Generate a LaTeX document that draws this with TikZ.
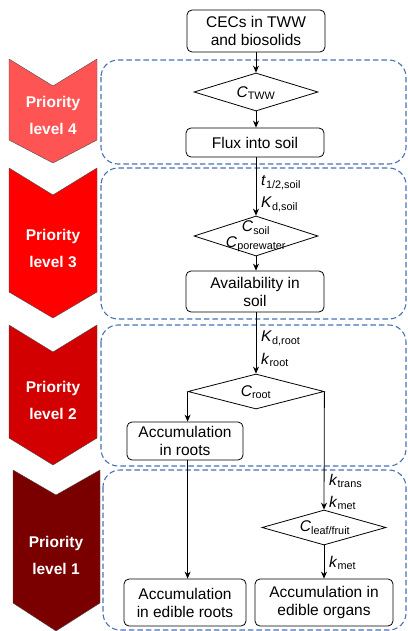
\documentclass[tikz,border=0pt]{standalone}
\usepackage{fontspec}
\setmainfont{Liberation Sans}
\usetikzlibrary{shapes.geometric,arrows.meta}

\definecolor{lvlfour}{HTML}{FF5454}
\definecolor{lvlthree}{HTML}{FF0000}
\definecolor{lvltwo}{HTML}{D20000}
\definecolor{lvlone}{HTML}{7A0000}
\definecolor{zoneblue}{HTML}{4A72B8}

% italic symbol with upright subscript
\newcommand{\qty}[2]{\textit{#1}\textsubscript{#2}}

\begin{document}
\begin{tikzpicture}[x=1pt,y=-1pt,
  font=\fontsize{15.5}{18}\selectfont,
  box/.style={draw, rounded corners=5pt, line width=0.8pt, align=center,
              inner sep=0pt},
  dia/.style={draw, diamond, line width=0.8pt, inner sep=0pt},
  zone/.style={draw=zoneblue, dash pattern=on 5.5pt off 3pt, line width=1.1pt,
               rounded corners=17pt},
  chev/.style={draw=black!70, line width=0.4pt},
  lvltext/.style={text=white, font=\fontsize{15.5}{27}\selectfont\bfseries,
                  align=center},
  flow/.style={-{Stealth[length=7pt,width=6pt]}, line width=0.8pt},
  par/.style={anchor=west, inner sep=0pt}
]
\useasboundingbox (0,0) rectangle (407,631);

% dashed zones for each priority level
\draw[zone] (101,60) rectangle (406,164);
\draw[zone] (101,168) rectangle (406,319);
\draw[zone] (101,325) rectangle (406,466);
\draw[zone] (103,470) rectangle (406,630);

% priority chevrons
\fill[lvlfour] (9,59) -- (53,86) -- (97,59) -- (97,140) -- (53,163) -- (9,140) -- cycle;
\fill[lvlthree] (9,168) -- (53,195) -- (97,168) -- (97,292) -- (53,318) -- (9,292) -- cycle;
\fill[lvltwo] (9,325) -- (53,352) -- (97,325) -- (97,438) -- (53,465) -- (9,438) -- cycle;
\fill[lvlone] (13,470) -- (56,495) -- (100,470) -- (100,603) -- (56,631) -- (13,603) -- cycle;
\draw[chev] (9,59) -- (53,86) -- (97,59) -- (97,140) -- (53,163) -- (9,140) -- cycle;
\draw[chev] (9,168) -- (53,195) -- (97,168) -- (97,292) -- (53,318) -- (9,292) -- cycle;
\draw[chev] (9,325) -- (53,352) -- (97,325) -- (97,438) -- (53,465) -- (9,438) -- cycle;
\draw[chev] (13,470) -- (56,495) -- (100,470) -- (100,603) -- (56,631) -- (13,603) -- cycle;

\node[lvltext] (p4) at (53,115) {Priority\\level 4};
\node[lvltext] (p3) at (53,248) {Priority\\level 3};
\node[lvltext] (p2) at (53,400) {Priority\\level 2};
\node[lvltext] (p1) at (56,555) {Priority\\level 1};

% flow boxes
\node[box, minimum width=138pt, minimum height=42pt] (src) at (256,31) {CECs in TWW\\and biosolids};
\node[dia, minimum width=124pt, minimum height=38pt] (d1) at (256,92) {};
\node (d1t) at (256,93) {\qty{C}{TWW}};
\node[box, minimum width=138pt, minimum height=29pt] (flux) at (255,142.5) {Flux into soil};
\node[dia, minimum width=124pt, minimum height=40pt] (d2) at (256,236) {};
\node[align=center, font=\fontsize{15.5}{16}\selectfont] (d2t) at (256,236) {\qty{C}{soil}\\\qty{C}{porewater}};
\node[box, minimum width=138pt, minimum height=41pt] (avail) at (255,291.5) {Availability in\\soil};
\node[dia, minimum width=136pt, minimum height=35pt] (d3) at (256,391.5) {};
\node (d3t) at (256,392) {\qty{C}{root}};
\node[box, minimum width=116pt, minimum height=38pt] (roots) at (185,441) {Accumulation\\in roots};
\node[dia, minimum width=124pt, minimum height=35pt] (d4) at (324,527.5) {};
\node (d4t) at (325,528) {\qty{C}{leaf/fruit}};
\node[box, minimum width=122pt, minimum height=47pt] (eroots) at (185,602.5) {Accumulation\\in edible roots};
\node[box, minimum width=138pt, minimum height=47pt] (eorgans) at (324,602.5) {Accumulation in\\edible organs};

% connectors
\draw[flow] (src.south) -- (d1.north);
\draw[flow] (d1.south) -- (d1.south |- flux.north);
\draw[flow] (d1.south |- flux.south) -- (d2.north);
\draw[flow] (d2.south) -- (d2.south |- avail.north);
\draw[flow] (d2.south |- avail.south) -- (d3.north);
\draw[flow] (d3.west) -- (d3.west |- roots.north);
\draw[flow] (d3.east) -- (d4.north);
\draw[flow] (d3.west |- roots.south) -- (d3.west |- eroots.north);
\draw[flow] (d4.south) -- (eorgans.north);

% parameter labels beside the arrows
\node[par] (l1) at (261,183) {\qty{t}{1/2,soil}};
\node[par] (l2) at (261,204) {\qty{K}{d,soil}};
\node[par] (l3) at (261,338) {\qty{K}{d,root}};
\node[par] (l4) at (261,360) {\qty{k}{root}};
\node[par] (l5) at (329,481) {\qty{k}{trans}};
\node[par] (l6) at (329,503) {\qty{k}{met}};
\node[par] (l7) at (329,563) {\qty{k}{met}};
\end{tikzpicture}
\end{document}
